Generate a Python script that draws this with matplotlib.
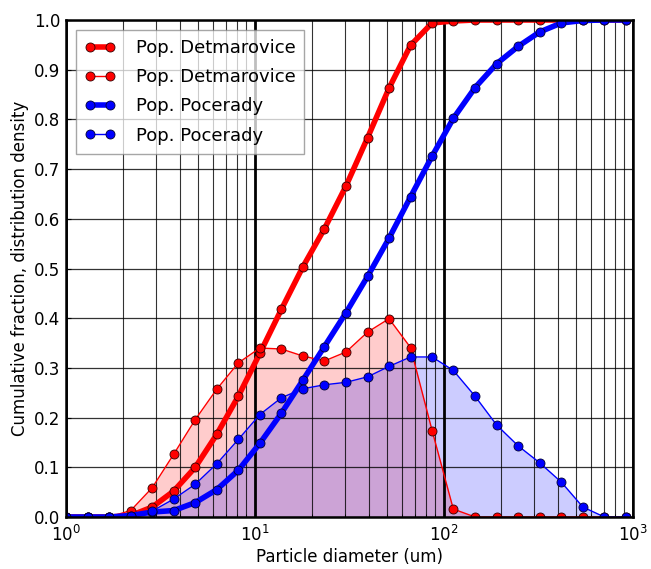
import matplotlib
matplotlib.use('Agg')
import matplotlib.pyplot as plt
import numpy as np

# particle diameters (um)
diam = [1.0, 1.3, 1.69, 2.2, 2.86, 3.71, 4.83, 6.27, 8.16, 10.6, 13.8, 17.9,
        23.3, 30.3, 39.4, 51.2, 66.5, 86.5, 112, 146, 190, 247, 321, 418,
        543, 706, 918]

# Detmarovice
det_cum = [0.0, 0.0, 0.0, 0.003, 0.02, 0.052, 0.10, 0.166, 0.243, 0.329,
           0.418, 0.503, 0.580, 0.666, 0.763, 0.863, 0.949, 0.994, 0.998,
           1.0, 1.0, 1.0, 1.0, 1.0, 1.0, 1.0, 1.0]
det_dist = [0.0, 0.0, 0.0, 0.013, 0.059, 0.126, 0.196, 0.257, 0.310, 0.340,
            0.338, 0.324, 0.314, 0.332, 0.372, 0.399, 0.341, 0.174, 0.016,
            0.0, 0.0, 0.0, 0.0, 0.0, 0.0, 0.0, 0.0]

# Pocerady
poc_cum = [0.0, 0.0, 0.0, 0.003, 0.010, 0.013, 0.029, 0.055, 0.094, 0.148,
           0.209, 0.275, 0.343, 0.411, 0.484, 0.561, 0.644, 0.726, 0.802,
           0.864, 0.912, 0.947, 0.976, 0.994, 0.999, 1.0, 1.0]
poc_dist = [0.0, 0.0, 0.0, 0.002, 0.012, 0.036, 0.066, 0.107, 0.156, 0.206,
            0.240, 0.258, 0.266, 0.271, 0.282, 0.303, 0.322, 0.322, 0.295,
            0.243, 0.185, 0.143, 0.109, 0.070, 0.020, 0.0, 0.0]

plt.rcParams['font.family'] = 'DejaVu Sans'
fig = plt.figure(figsize=(6.51, 5.69), dpi=100, facecolor='white')
ax = fig.add_axes([66/651, 52/569, 567/651, 497/569])

mk = dict(marker='o', markersize=6.5, markeredgecolor='#330000', markeredgewidth=0.6)

ax.fill_between(diam, 0, det_dist, color='red', alpha=0.2, lw=0)
ax.fill_between(diam, 0, poc_dist, color='blue', alpha=0.2, lw=0)

ax.plot(diam, det_cum, color='red', lw=4, label='Pop. Detmarovice', markerfacecolor='red', **mk)
ax.plot(diam, det_dist, color='red', lw=1, label='Pop. Detmarovice', markerfacecolor='red', **mk)
ax.plot(diam, poc_cum, color='blue', lw=4, label='Pop. Pocerady', markerfacecolor='blue',
        **dict(mk, markeredgecolor='#000033'))
ax.plot(diam, poc_dist, color='blue', lw=1, label='Pop. Pocerady', markerfacecolor='blue',
        **dict(mk, markeredgecolor='#000033'))

ax.set_xscale('log')
ax.set_xlim(1, 1000)
ax.set_ylim(0, 1)
ax.set_yticks(np.arange(0, 1.01, 0.1))
ax.set_yticklabels([f'{v:.1f}' for v in np.arange(0, 1.01, 0.1)])

ax.xaxis.grid(True, which='major', color='k', lw=2)
ax.xaxis.grid(True, which='minor', color='k', lw=0.8, alpha=0.8)
ax.yaxis.grid(True, which='major', color='k', lw=0.9, alpha=0.8)

ax.tick_params(which='both', direction='in', labelsize=12)
ax.tick_params(axis='x', pad=6)
ax.tick_params(axis='y', pad=4)
ax.tick_params(which='minor', length=2)
for s in ax.spines.values():
    s.set_linewidth(1.8)

ax.set_xlabel('Particle diameter (um)', fontsize=12, labelpad=2)
ax.set_ylabel('Cumulative fraction, distribution density', fontsize=12)

leg = ax.legend(loc='upper left', fontsize=13, numpoints=2, framealpha=0.75,
                edgecolor='#888888', fancybox=False, borderaxespad=0.55,
                handlelength=1.7, handletextpad=1.1, labelspacing=0.62,
                borderpad=0.5)
leg.get_frame().set_linewidth(1.0)

fig.savefig('out.png', dpi=100)
